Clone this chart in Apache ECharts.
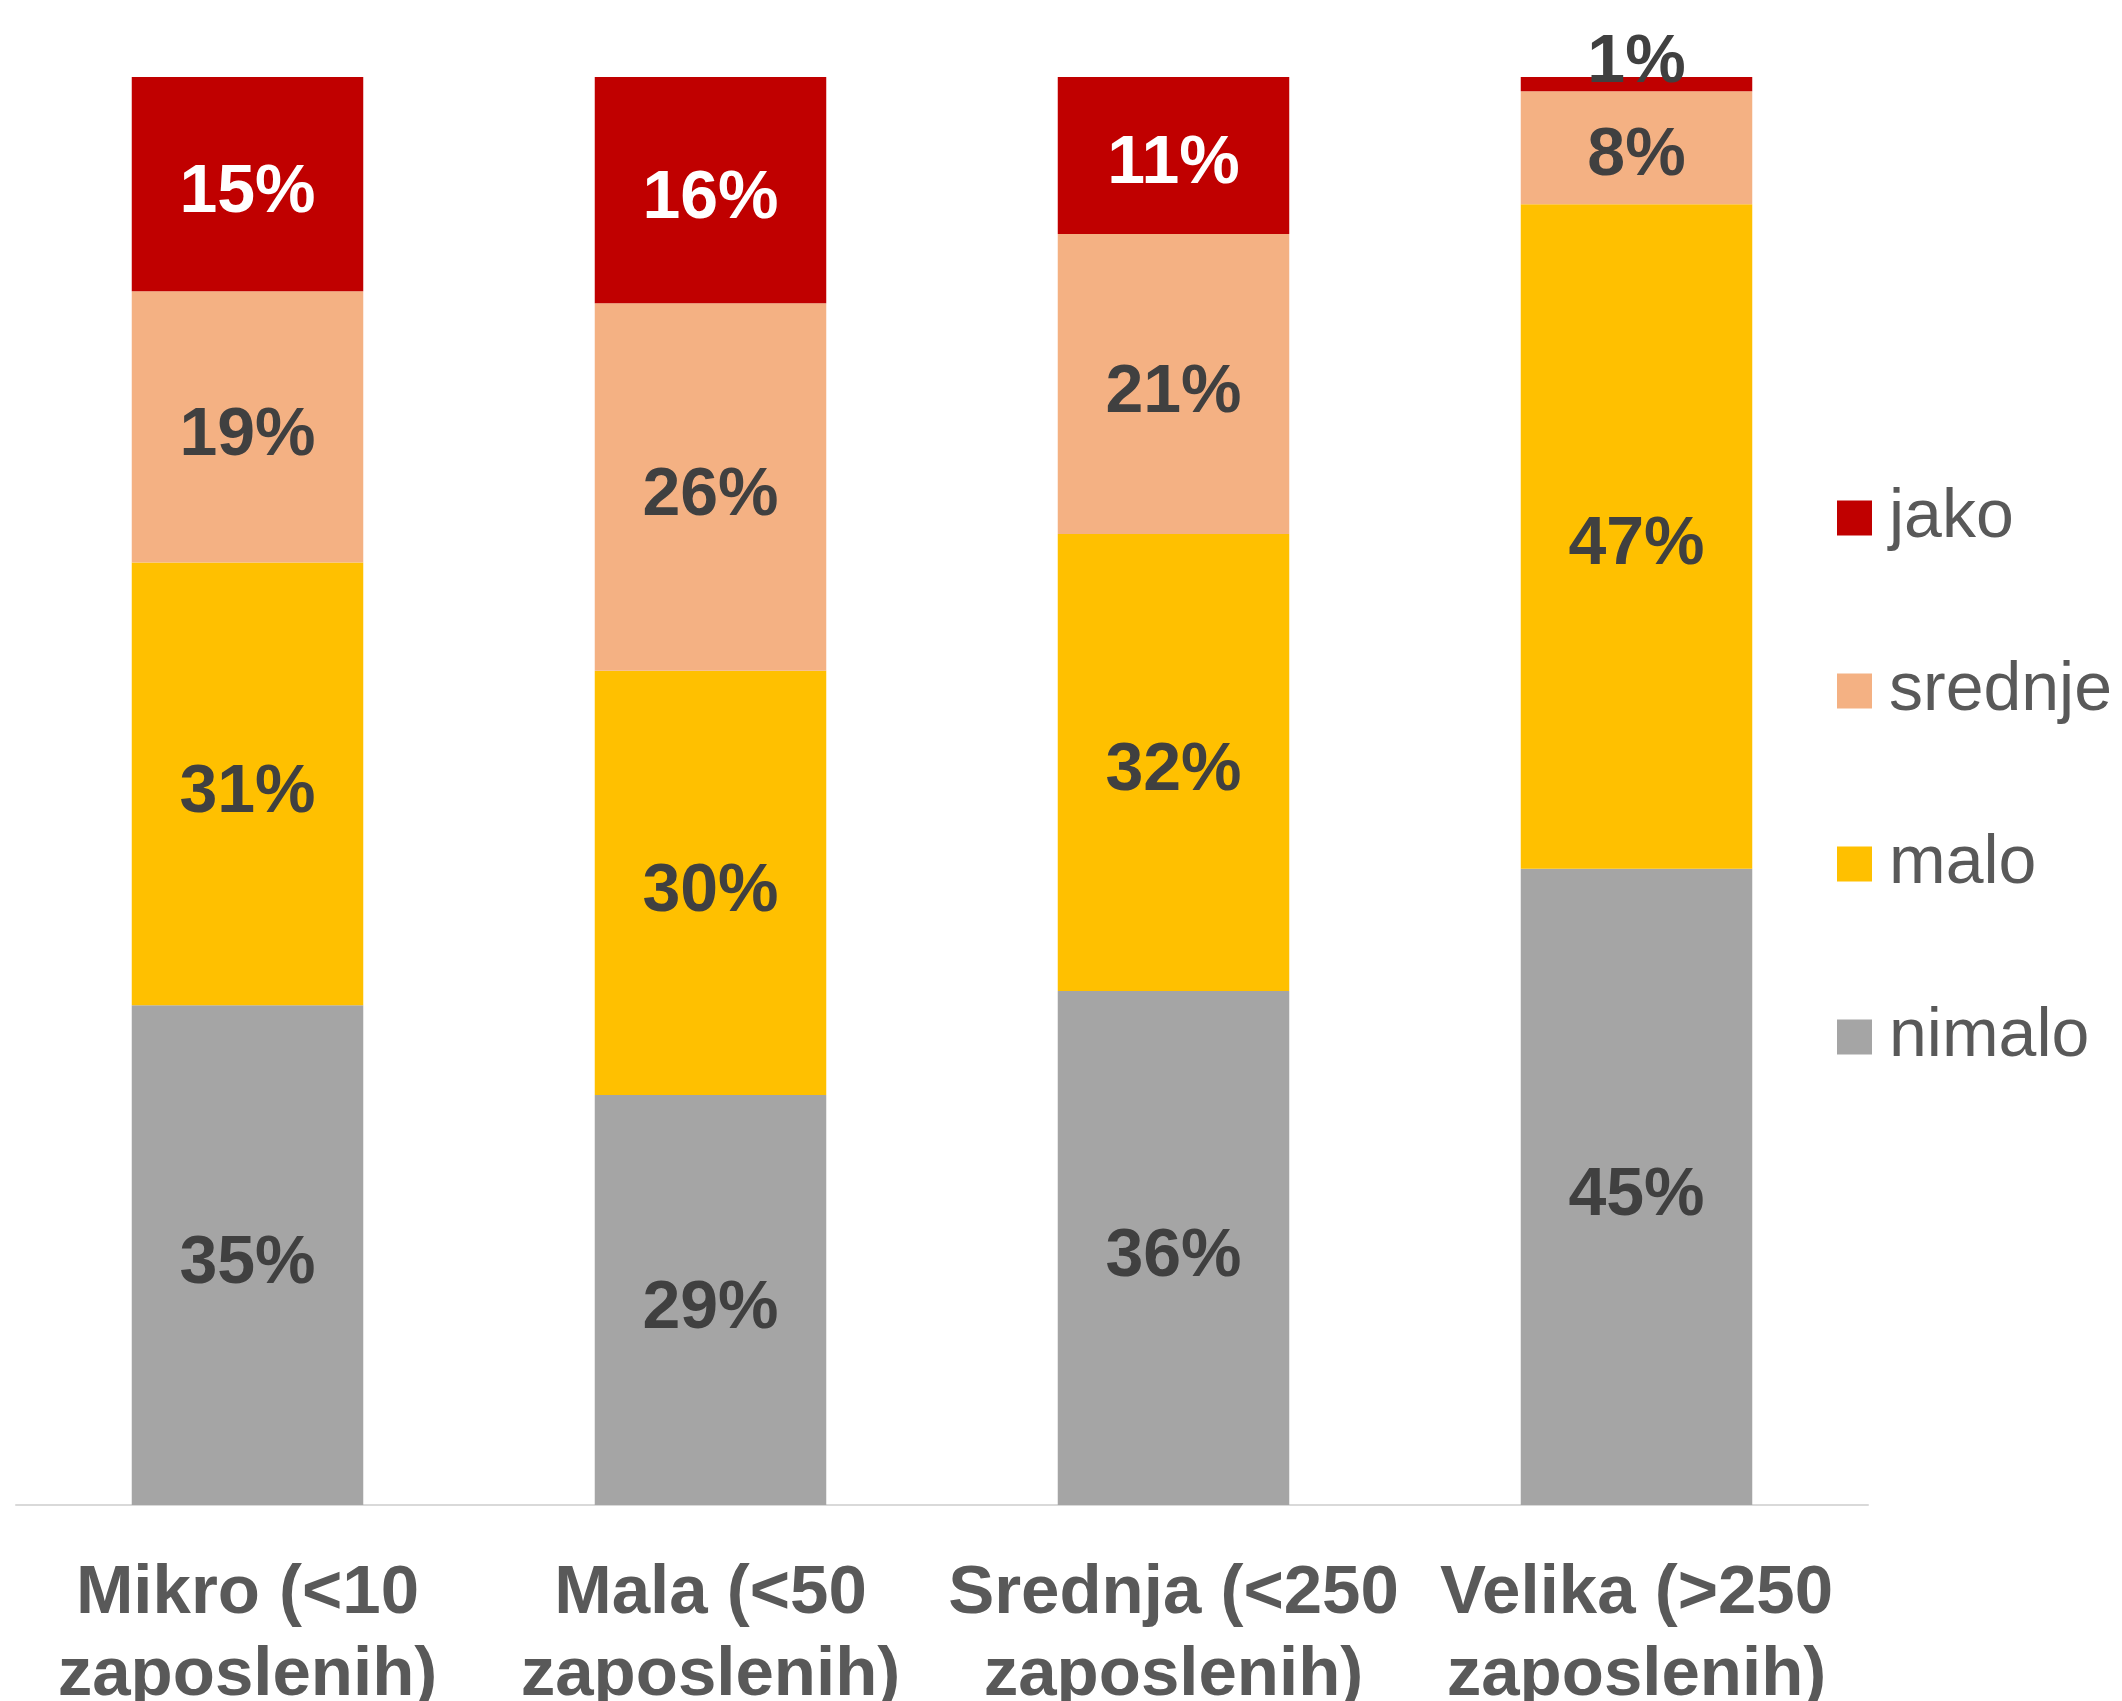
<!DOCTYPE html>
<html>
<head>
<meta charset="utf-8">
<script src="https://cdn.jsdelivr.net/npm/echarts@6/dist/echarts.min.js"></script>
<style>
    html, body { margin: 0; padding: 0; background: #fff; }
    #chart { width: 2122px; height: 1701px; }
</style>
</head>
<body>
<div id="chart"></div>
<script>
(function () {
    var categories = ['Mikro (<10\nzaposlenih)', 'Mala (<50\nzaposlenih)', 'Srednja (<250\nzaposlenih)', 'Velika (>250\nzaposlenih)'];
    var nimalo = [35, 29, 36, 45];
    var malo = [31, 30, 32, 47];
    var srednje = [19, 26, 21, 8];
    var jako = [15, 16, 11, 1];

    var font = "'Liberation Sans', Arial, sans-serif";

    // bars are 100% stacked, so each column is scaled to its own total
    var totals = categories.map(function (c, i) {
        return nimalo[i] + malo[i] + srednje[i] + jako[i];
    });
    function share(arr) {
        return arr.map(function (v, i) { return v / totals[i] * 100; });
    }

    function makeSeries(name, raw, color, labelColor) {
        var data = share(raw).map(function (v, i) {
            var item = {value: v};
            // tiny segment: label sits above the bar in dark text
            if (raw[i] < 3) {
                item.label = {color: '#404040', offset: [0, -21]};
            }
            return item;
        });
        return {
            name: name,
            type: 'bar',
            stack: 'total',
            barCategoryGap: '50%',
            itemStyle: {color: color},
            label: {
                show: true,
                position: 'inside',
                offset: [0, 9],
                color: labelColor,
                fontFamily: font,
                fontWeight: 'bold',
                fontSize: 68,
                formatter: function (p) {
                    return raw[p.dataIndex] + '%';
                }
            },
            emphasis: {disabled: true},
            data: data
        };
    }

    var myChart = echarts.init(document.getElementById('chart'));
    myChart.setOption({
        animation: false,
        textStyle: {fontFamily: font},
        grid: {left: 16, right: 254, top: 77, bottom: 196, containLabel: false, outerBoundsMode: 'none'},
        legend: {
            orient: 'vertical',
            left: 1832,
            top: 479,
            icon: 'rect',
            itemWidth: 35,
            itemHeight: 35,
            itemGap: 105,
            textStyle: {fontSize: 68, color: '#595959', fontFamily: font, lineHeight: 68, padding: [0, 0, 0, 12]},
            data: ['jako', 'srednje', 'malo', 'nimalo']
        },
        xAxis: {
            type: 'category',
            data: categories,
            axisLine: {lineStyle: {color: '#d9d9d9', width: 2}},
            axisTick: {show: false},
            axisLabel: {
                interval: 0,
                margin: 48,
                fontSize: 69,
                lineHeight: 82,
                fontWeight: 'bold',
                color: '#595959',
                fontFamily: font
            }
        },
        yAxis: {
            type: 'value',
            min: 0,
            max: 100,
            show: false
        },
        series: [
            makeSeries('nimalo', nimalo, '#a5a5a5', '#404040'),
            makeSeries('malo', malo, '#ffc000', '#404040'),
            makeSeries('srednje', srednje, '#f4b183', '#404040'),
            makeSeries('jako', jako, '#c00000', '#ffffff')
        ]
    });
})();
</script>
</body>
</html>
